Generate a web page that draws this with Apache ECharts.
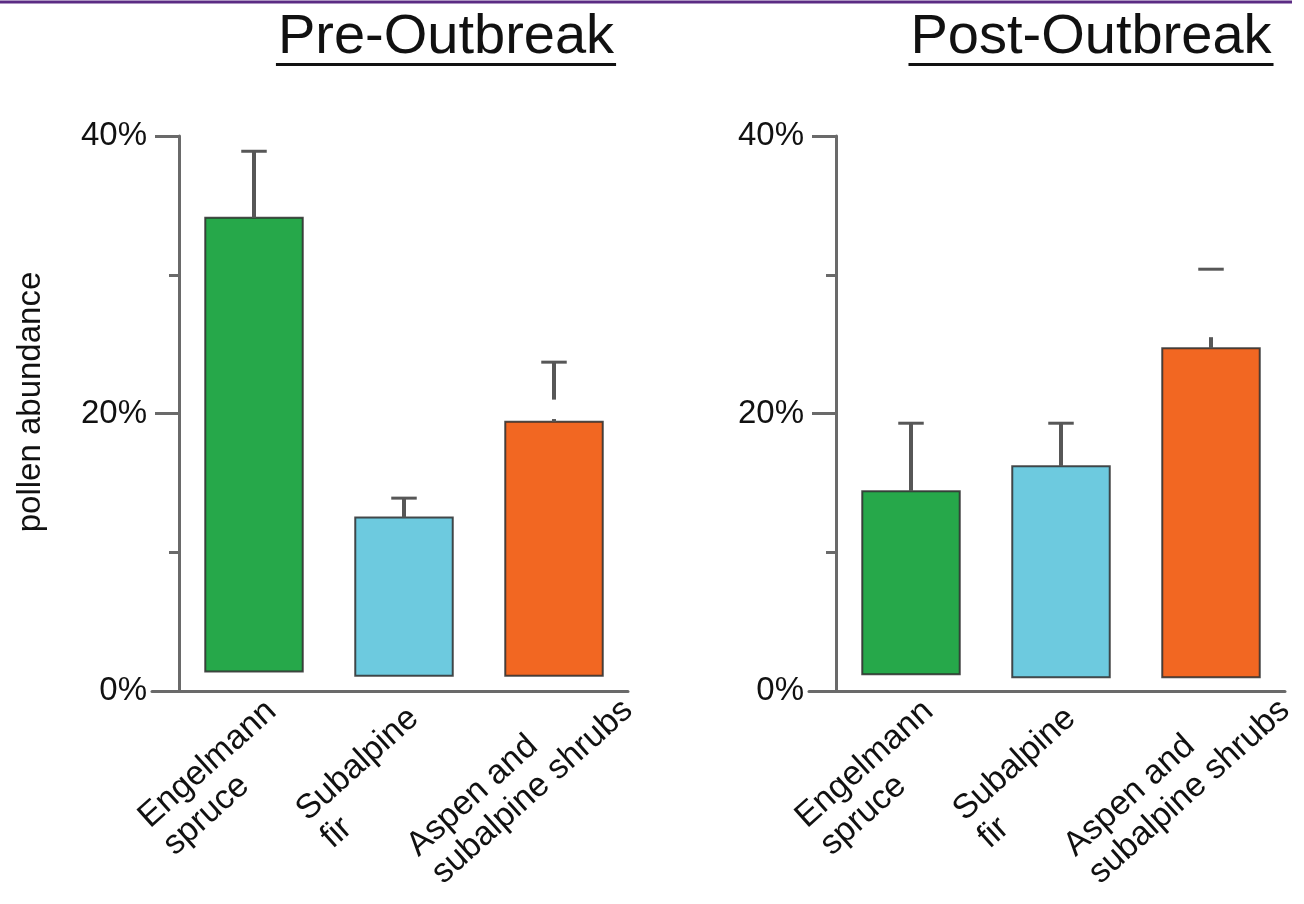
<!DOCTYPE html>
<html>
<head>
<meta charset="utf-8">
<script src="https://cdn.jsdelivr.net/npm/echarts@6/dist/echarts.min.js"></script>
<style>
html,body{margin:0;padding:0;background:#fff;}
#chart{width:1304px;height:904px;}
</style>
</head>
<body>
<div id="chart"></div>
<script>
// ---- data ----
const categories = ['Engelmann\nspruce', 'Subalpine\nfir', 'Aspen and\nsubalpine shrubs'];
const yTickValues = [0, 20, 40];

const preTop = [34.1, 12.5, 19.4];
const preBase = [1.4, 1.1, 1.1];
const preErr = [38.9, 13.9, 23.7];
const preGapLow = [null, null, 19.6];
const preGapHigh = [null, null, 21.0];

const postTop = [14.4, 16.2, 24.7];
const postBase = [1.2, 1.0, 1.0];
const postErr = [19.3, 19.3, 30.4];
const postGapLow = [null, null, 25.5];
const postGapHigh = [null, null, 30.4];

const panelTitles = ['Pre-Outbreak', 'Post-Outbreak'];
const yAxisName = 'pollen abundance';

// ---- style / layout ----
const FONT = '"Liberation Sans", Arial, Helvetica, sans-serif';
const barColors = ['#26a84a', '#6dcadf', '#f26722'];
const axisColor = '#6a6a6a';
const errColor = '#575757';
const panelLeft = [179, 836];
const gridTop = 136, gridHeight = 555, gridWidth = 450;

const panels = [
  {top: preTop, base: preBase, err: preErr, gl: preGapLow, gh: preGapHigh},
  {top: postTop, base: postBase, err: postErr, gl: postGapLow, gh: postGapHigh}
];

const chart = echarts.init(document.getElementById('chart'), null, {renderer: 'canvas'});

const grids = [], xAxes = [], yAxes = [], series = [];
const yMin = yTickValues[0], yMax = yTickValues[yTickValues.length - 1], yInt = yTickValues[1] - yTickValues[0];

panels.forEach((p, k) => {
  const L = panelLeft[k];
  const g0 = grids.length;
  const gb = {top: gridTop, height: gridHeight, containLabel: false, outerBoundsMode: 'none'};
  grids.push(Object.assign({left: L, width: gridWidth}, gb));
  grids.push(Object.assign({left: L - 27, width: gridWidth + 26}, gb));
  grids.push(Object.assign({left: L - 34, width: gridWidth}, gb));

  xAxes.push({gridIndex: g0, type: 'category', data: categories, axisLine: {show: false}, axisTick: {show: false}, axisLabel: {show: false}});
  xAxes.push({gridIndex: g0 + 1, type: 'value', min: 0, max: 1, axisLine: {show: true, onZero: false, lineStyle: {color: axisColor, width: 3}}, axisTick: {show: false}, axisLabel: {show: false}, splitLine: {show: false}});
  xAxes.push({gridIndex: g0 + 2, type: 'category', data: categories, axisLine: {show: false}, axisTick: {show: false},
    axisLabel: {
      interval: 0, rotate: 42, margin: 87, align: 'center', verticalAlign: 'middle', hideOverlap: false,
      formatter: v => v.split('\n').map(s => '{a|' + s + '}').join('\n'),
      rich: {a: {fontSize: 34, lineHeight: 37, align: 'left', fontFamily: FONT, color: '#111'}}
    }});

  yAxes.push({gridIndex: g0, type: 'value', min: yMin, max: yMax, interval: yInt,
    axisLine: {show: true, lineStyle: {color: axisColor, width: 3}},
    axisTick: {show: true, length: 24, lineStyle: {color: axisColor, width: 3}},
    minorTick: {show: true, splitNumber: 2, length: 10, lineStyle: {color: axisColor, width: 3}},
    splitLine: {show: false},
    axisLabel: {formatter: '{value}%', margin: 32, fontSize: 33, fontFamily: FONT, color: '#111', padding: [16, 0, 0, 0]}
  });
  yAxes.push({gridIndex: g0 + 1, type: 'value', min: yMin, max: yMax, show: false});
  yAxes.push({gridIndex: g0 + 2, type: 'value', min: yMin, max: yMax, show: false});

  series.push({
    type: 'custom', xAxisIndex: g0, yAxisIndex: g0, z: 2,
    data: categories.map((c, i) => [i, p.base[i], p.top[i]]),
    renderItem: (params, api) => {
      const i = params.dataIndex;
      const pt = api.coord([i, api.value(2)]);
      const pb = api.coord([i, api.value(1)]);
      const w = api.size([1, 0])[0] * 0.65;
      return {type: 'rect', shape: {x: pt[0] - w / 2, y: pt[1], width: w, height: pb[1] - pt[1]},
        style: {fill: barColors[i], stroke: 'rgba(45,45,45,0.85)', lineWidth: 2}};
    }
  });
  series.push({
    type: 'custom', xAxisIndex: g0, yAxisIndex: g0, z: 3,
    data: categories.map((c, i) => [i, p.err[i]]),
    renderItem: (params, api) => {
      const i = params.dataIndex;
      const children = [];
      const half = api.size([1, 0])[0] * 0.085;
      const capP = api.coord([i, p.err[i]]);
      const topP = api.coord([i, p.top[i]]);
      const vstyle = {stroke: errColor, lineWidth: 4};
      if (p.gl[i] == null) {
        children.push({type: 'line', shape: {x1: topP[0], y1: topP[1], x2: capP[0], y2: capP[1]}, style: vstyle});
      } else {
        const a = api.coord([i, p.gl[i]]);
        const b = api.coord([i, p.gh[i]]);
        children.push({type: 'line', shape: {x1: topP[0], y1: topP[1], x2: a[0], y2: a[1]}, style: vstyle});
        if (b[1] > capP[1] + 0.5) {
          children.push({type: 'line', shape: {x1: b[0], y1: b[1], x2: capP[0], y2: capP[1]}, style: vstyle});
        }
      }
      children.push({type: 'line', shape: {x1: capP[0] - half, y1: capP[1], x2: capP[0] + half, y2: capP[1]}, style: {stroke: errColor, lineWidth: 3}});
      return {type: 'group', children: children};
    }
  });
});

const titleCenters = [446, 1091];
const titleFont = 56;
const graphics = [
  {type: 'line', shape: {x1: 0, y1: 2, x2: 1292, y2: 2}, style: {stroke: '#5b2b84', lineWidth: 3}},
  {type: 'text', x: 31, y: 402, rotation: Math.PI / 2,
    style: {text: yAxisName, font: '33px ' + FONT, fill: '#111', textAlign: 'center', textVerticalAlign: 'middle'}}
];
panelTitles.forEach((t, k) => {
  const w = echarts.format.getTextRect ? echarts.format.getTextRect(t, titleFont + 'px ' + FONT).width : t.length * 28;
  graphics.push({type: 'text', x: titleCenters[k], y: 38,
    style: {text: t, font: titleFont + 'px ' + FONT, fill: '#111', textAlign: 'center', textVerticalAlign: 'middle'}});
  graphics.push({type: 'rect', shape: {x: titleCenters[k] - w / 2 - 2, y: 63, width: w + 4, height: 3}, style: {fill: '#111'}});
});

chart.setOption({
  animation: false,
  backgroundColor: '#fff',
  grid: grids,
  xAxis: xAxes,
  yAxis: yAxes,
  series: series,
  graphic: graphics
});
</script>
</body>
</html>
